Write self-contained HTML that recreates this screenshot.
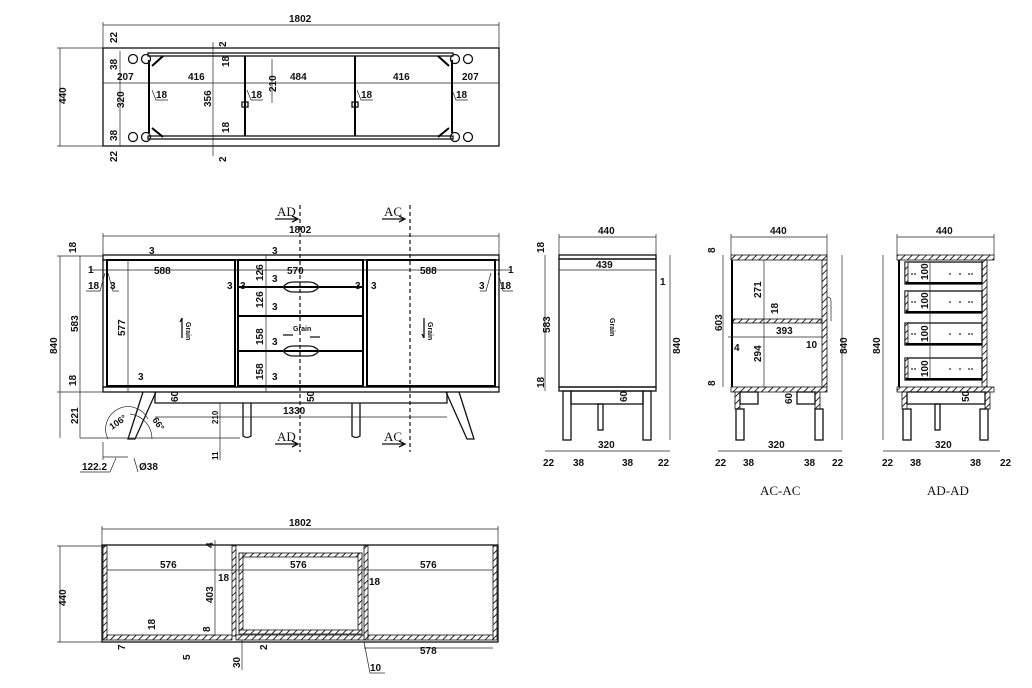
<!DOCTYPE html>
<html><head><meta charset="utf-8"><style>
html,body{margin:0;padding:0;background:#fff;}
svg{display:block;}
text{font-family:"Liberation Sans",sans-serif;font-size:10px;font-weight:bold;fill:#111;}
.s{font-family:"Liberation Serif",serif;font-weight:normal;font-size:13px;}
.t{stroke:#222;stroke-width:0.7;fill:none;}
.m{stroke:#111;stroke-width:1.3;fill:none;}
.k{stroke:#000;stroke-width:2;fill:none;}
.d{stroke:#111;stroke-width:1.2;stroke-dasharray:4 3;fill:none;}
.h{fill:url(#hp);stroke:#111;stroke-width:0.8;}
</style></head><body>
<svg width="1032" height="688" viewBox="0 0 1032 688" xmlns="http://www.w3.org/2000/svg">
<defs>
<pattern id="hp" width="5" height="5" patternUnits="userSpaceOnUse" patternTransform="rotate(45)">
<rect width="5" height="5" fill="#fff"/><line x1="0" y1="0" x2="0" y2="5" stroke="#111" stroke-width="1.8"/>
</pattern>
</defs>

<!-- ============ TOP VIEW ============ -->
<line class="t" x1="103" y1="25" x2="499" y2="25"/><line class="t" x1="103" y1="22" x2="103" y2="48"/><line class="t" x1="499" y1="22" x2="499" y2="48"/>
<text x="289" y="22">1802</text>
<line class="t" x1="60" y1="48" x2="60" y2="146"/><line class="t" x1="57" y1="48" x2="103" y2="48"/><line class="t" x1="57" y1="146" x2="103" y2="146"/>
<text transform="translate(66,104) rotate(-90)">440</text>
<rect class="m" x="103" y="48" width="396" height="98"/>
<line class="t" x1="103" y1="83" x2="499" y2="83"/>
<rect class="m" x="148" y="53" width="305" height="3"/>
<rect class="m" x="148" y="136" width="305" height="3"/>
<line class="k" x1="149" y1="60" x2="149" y2="133"/>
<line class="k" x1="452" y1="60" x2="452" y2="133"/>
<line class="k" x1="245" y1="56" x2="245" y2="136"/>
<line class="k" x1="355" y1="56" x2="355" y2="136"/>
<rect class="m" x="242" y="102" width="6" height="5"/><rect class="m" x="352" y="102" width="6" height="5"/>
<line class="t" x1="213" y1="42" x2="213" y2="156"/>
<line class="t" x1="272" y1="59" x2="272" y2="103"/>
<g class="m">
<circle cx="133" cy="59" r="4.5"/><circle cx="146" cy="59" r="4.5"/><circle cx="133" cy="137" r="4.5"/><circle cx="146" cy="137" r="4.5"/>
<circle cx="455" cy="59" r="4.5"/><circle cx="468" cy="59" r="4.5"/><circle cx="455" cy="137" r="4.5"/><circle cx="468" cy="137" r="4.5"/>
</g>
<g class="k"><line x1="152" y1="66" x2="163" y2="56"/><line x1="152" y1="128" x2="163" y2="137"/><line x1="449" y1="66" x2="438" y2="56"/><line x1="449" y1="128" x2="438" y2="137"/></g>
<line class="t" x1="120" y1="51" x2="120" y2="146"/>
<text transform="translate(117,43) rotate(-90)">22</text>
<text transform="translate(117,70) rotate(-90)">38</text>
<text transform="translate(124,108) rotate(-90)">320</text>
<text transform="translate(117,141) rotate(-90)">38</text>
<text transform="translate(117,162) rotate(-90)">22</text>
<text x="117" y="80">207</text><text x="188" y="80">416</text><text x="290" y="80">484</text><text x="393" y="80">416</text><text x="462" y="80">207</text>
<text transform="translate(226,47) rotate(-90)">2</text><text transform="translate(226,162) rotate(-90)">2</text>
<text transform="translate(229,67) rotate(-90)">18</text><text transform="translate(229,133) rotate(-90)">18</text>
<text transform="translate(211,107) rotate(-90)">356</text><text transform="translate(276,92) rotate(-90)">210</text>
<text x="156" y="98">18</text><text x="251" y="98">18</text><text x="361" y="98">18</text><text x="456" y="98">18</text>
<path class="t" d="M152,90 l4,10 h12 M247,90 l4,10 h12 M357,90 l4,10 h12 M452,90 l4,10 h12"/>

<!-- ============ FRONT VIEW ============ -->
<text class="s" x="277" y="216">AD</text><text class="s" x="384" y="216">AC</text>
<text class="s" x="277" y="441">AD</text><text class="s" x="384" y="441">AC</text>
<path d="M275,219 h22 M292,216 l6,3 -6,3 M382,219 h22 M399,216 l6,3 -6,3 M275,444 h22 M292,441 l6,3 -6,3 M382,444 h22 M399,441 l6,3 -6,3" class="m"/>
<line class="t" x1="103" y1="236" x2="499" y2="236"/><line class="t" x1="103" y1="233" x2="103" y2="255"/><line class="t" x1="499" y1="233" x2="499" y2="255"/>
<text x="289" y="233">1802</text>
<rect class="m" x="103" y="255" width="396" height="5"/>
<rect class="m" x="103" y="260" width="396" height="127"/>
<rect class="m" x="103" y="387" width="396" height="5"/>
<rect class="k" x="107" y="260" width="128" height="126"/>
<rect class="k" x="238" y="260" width="125" height="126"/>
<rect class="k" x="367" y="260" width="128" height="126"/>
<line class="k" x1="238" y1="287" x2="363" y2="287"/><line class="k" x1="238" y1="316" x2="363" y2="316"/><line class="k" x1="238" y1="351" x2="363" y2="351"/>
<path class="m" d="M283,287 q4,-5 10,-5 h16 q6,0 10,5 q-4,5 -10,5 h-16 q-6,0 -10,-5z"/>
<path class="m" d="M283,351 q4,-5 10,-5 h16 q6,0 10,5 q-4,5 -10,5 h-16 q-6,0 -10,-5z"/>
<line class="t" x1="90" y1="270" x2="510" y2="270"/>
<line class="d" x1="300" y1="205" x2="300" y2="452"/><line class="d" x1="410" y1="205" x2="410" y2="452"/>
<line class="t" x1="128" y1="260" x2="128" y2="392"/>
<line class="t" x1="266" y1="255" x2="266" y2="392"/>
<path class="m" d="M143,392 L128,439 L135,439 L156,392"/>
<path class="m" d="M459,392 L474,439 L467,439 L446,392"/>
<path class="m" d="M155,392 L155,403 L447,403 L447,392"/>
<path class="m" d="M243,403 v33 q4,3 8,0 v-33 M352,403 v33 q4,3 8,0 v-33"/>
<line class="t" x1="80" y1="438" x2="240" y2="438"/>
<line class="t" x1="220" y1="403" x2="220" y2="460"/>
<line class="t" x1="155" y1="417" x2="447" y2="417"/>
<text x="283" y="414">1330</text>
<path class="t" d="M108,439 a22,22 0 0 1 40,-20 M130,414 a25,25 0 0 1 22,25"/>
<line class="t" x1="103" y1="442" x2="103" y2="460"/><line class="t" x1="103" y1="457" x2="128" y2="457"/>
<text x="82" y="470">122.2</text><line class="t" x1="80" y1="472" x2="110" y2="472"/><line class="t" x1="110" y1="472" x2="116" y2="458"/>
<text x="139" y="470">Ø38</text><line class="t" x1="134" y1="458" x2="138" y2="472"/>
<text transform="translate(112,430) rotate(-35)" style="font-size:9px">106°</text>
<text transform="translate(152,420) rotate(55)" style="font-size:9px">66°</text>
<line class="t" x1="60" y1="256" x2="60" y2="438"/><line class="t" x1="80" y1="256" x2="80" y2="438"/>
<line class="t" x1="57" y1="256" x2="103" y2="256"/><line class="t" x1="57" y1="392" x2="103" y2="392"/>
<text transform="translate(57,354) rotate(-90)">840</text>
<text transform="translate(76,253) rotate(-90)">18</text>
<text transform="translate(78,332) rotate(-90)">583</text>
<text transform="translate(76,386) rotate(-90)">18</text>
<text transform="translate(78,424) rotate(-90)">221</text>
<text transform="translate(125,336) rotate(-90)">577</text>
<text x="154" y="274">588</text><text x="287" y="274">570</text><text x="420" y="274">588</text>
<text x="88" y="273">1</text><text x="508" y="273">1</text>
<text x="88" y="289">18</text><text x="110" y="289">3</text><text x="227" y="289">3</text><text x="240" y="289">3</text>
<text x="355" y="289">3</text><text x="371" y="289">3</text><text x="479" y="289">3</text><text x="500" y="289">18</text>
<path class="t" d="M86,291 h14 l5,-18 M108,273 l5,18 h6 M480,291 h6 l5,-18 M498,273 l5,18 h10"/>
<text x="149" y="254">3</text><text x="272" y="254">3</text>
<text transform="translate(263,281) rotate(-90)">126</text><text transform="translate(263,308) rotate(-90)">126</text>
<text transform="translate(263,345) rotate(-90)">158</text><text transform="translate(263,380) rotate(-90)">158</text>
<text x="272" y="282">3</text><text x="272" y="310">3</text><text x="272" y="345">3</text><text x="272" y="380">3</text><text x="138" y="380">3</text>
<text transform="translate(178,402) rotate(-90)">60</text><text transform="translate(314,402) rotate(-90)">50</text>
<text transform="translate(218,424) rotate(-90)" style="font-size:8px">210</text>
<text transform="translate(218,460) rotate(-90)" style="font-size:8px">11</text>
<text transform="translate(186,322) rotate(90)" style="font-size:7px">Grain</text>
<text transform="translate(428,322) rotate(90)" style="font-size:7px">Grain</text>
<text x="293" y="331" style="font-size:7px">Grain</text>
<path class="m" d="M182,318 v20 M182,318 l-2,4 M283,335 h10 M310,337 h10"/>
<path class="m" d="M424,318 v20 M424,338 l-2,-4"/>

<!-- ============ SIDE VIEW ============ -->
<line class="t" x1="559" y1="237" x2="656" y2="237"/><line class="t" x1="559" y1="234" x2="559" y2="255"/><line class="t" x1="656" y1="234" x2="656" y2="255"/>
<text x="598" y="234">440</text>
<rect class="m" x="559" y="255" width="97" height="4"/>
<rect class="m" x="559" y="259" width="97" height="128"/>
<rect class="m" x="559" y="387" width="97" height="4"/>
<line class="t" x1="559" y1="270" x2="656" y2="270"/><text x="596" y="268">439</text><text x="660" y="285">1</text>
<rect class="m" x="563" y="391" width="8" height="49"/><rect class="m" x="643" y="391" width="8" height="49"/>
<rect class="m" x="571" y="391" width="72" height="13"/>
<rect class="m" x="598" y="404" width="5" height="26"/>
<line class="t" x1="670" y1="255" x2="670" y2="440"/><text transform="translate(680,354) rotate(-90)">840</text>
<line class="t" x1="545" y1="255" x2="545" y2="391"/>
<text transform="translate(544,253) rotate(-90)">18</text><text transform="translate(550,333) rotate(-90)">583</text><text transform="translate(544,388) rotate(-90)">18</text>
<text transform="translate(627,402) rotate(-90)">60</text>
<text transform="translate(610,318) rotate(90)" style="font-size:7px">Grain</text>
<line class="t" x1="545" y1="451" x2="670" y2="451"/><text x="598" y="448">320</text>
<text x="543" y="466">22</text><text x="573" y="466">38</text><text x="622" y="466">38</text><text x="658" y="466">22</text>

<!-- ============ AC-AC ============ -->
<line class="t" x1="731" y1="237" x2="827" y2="237"/><line class="t" x1="731" y1="234" x2="731" y2="255"/><line class="t" x1="827" y1="234" x2="827" y2="255"/>
<text x="770" y="234">440</text>
<rect class="h" x="731" y="255" width="96" height="5"/>
<rect class="h" x="731" y="387" width="96" height="5"/>
<rect class="h" x="733" y="319" width="88" height="4"/>
<rect class="h" x="822" y="260" width="5" height="127"/>
<line class="k" x1="732" y1="260" x2="732" y2="387"/>
<path class="t" d="M827,297 q4,0 4,4 v20"/>
<line class="t" x1="764" y1="260" x2="764" y2="387"/>
<line class="t" x1="728" y1="337" x2="822" y2="337"/>
<rect class="h" x="735" y="392" width="5" height="17"/><rect class="h" x="815" y="392" width="5" height="17"/>
<rect class="m" x="740" y="392" width="18" height="12"/><rect class="m" x="797" y="392" width="18" height="12"/>
<rect class="m" x="736" y="409" width="8" height="31"/><rect class="m" x="815" y="409" width="8" height="31"/>
<line class="t" x1="842" y1="255" x2="842" y2="440"/><text transform="translate(847,354) rotate(-90)">840</text>
<line class="t" x1="723" y1="255" x2="723" y2="387"/>
<text transform="translate(715,253) rotate(-90)">8</text><text transform="translate(722,331) rotate(-90)">603</text><text transform="translate(715,386) rotate(-90)">8</text>
<text transform="translate(761,298) rotate(-90)">271</text><text transform="translate(761,362) rotate(-90)">294</text>
<text transform="translate(778,314) rotate(-90)">18</text>
<text x="776" y="334">393</text><text x="734" y="351">4</text><text x="806" y="348">10</text>
<text transform="translate(792,404) rotate(-90)">60</text>
<line class="t" x1="718" y1="451" x2="842" y2="451"/><text x="768" y="448">320</text>
<text x="715" y="466">22</text><text x="743" y="466">38</text><text x="804" y="466">38</text><text x="832" y="466">22</text>
<text class="s" x="760" y="495">AC-AC</text>

<!-- ============ AD-AD ============ -->
<line class="t" x1="897" y1="237" x2="994" y2="237"/><line class="t" x1="897" y1="234" x2="897" y2="255"/><line class="t" x1="994" y1="234" x2="994" y2="255"/>
<text x="936" y="234">440</text>
<rect class="h" x="897" y="255" width="97" height="5"/>
<rect class="h" x="897" y="387" width="97" height="5"/>
<line class="k" x1="899" y1="260" x2="899" y2="387"/>
<rect class="h" x="982" y="260" width="5" height="127"/>
<g>
<rect class="m" x="905" y="262" width="77" height="22"/><rect class="h" x="905" y="262" width="3" height="20"/><line class="k" x1="906" y1="283" x2="982" y2="283"/>
<rect class="m" x="905" y="291" width="77" height="22"/><rect class="h" x="905" y="291" width="3" height="20"/><line class="k" x1="906" y1="312" x2="982" y2="312"/>
<rect class="m" x="905" y="323" width="77" height="22"/><rect class="h" x="905" y="323" width="3" height="20"/><line class="k" x1="906" y1="344" x2="982" y2="344"/>
<rect class="m" x="905" y="358" width="77" height="22"/><rect class="h" x="905" y="358" width="3" height="20"/><line class="k" x1="906" y1="379" x2="982" y2="379"/>
</g>
<line class="t" x1="930" y1="262" x2="930" y2="380"/>
<text transform="translate(928,280) rotate(-90)">100</text><text transform="translate(928,309) rotate(-90)">100</text>
<text transform="translate(928,342) rotate(-90)">100</text><text transform="translate(928,377) rotate(-90)">100</text>
<g fill="#222">
<circle cx="912" cy="274" r="0.9"/><circle cx="915" cy="274" r="0.9"/><circle cx="950" cy="274" r="0.9"/><circle cx="960" cy="274" r="0.9"/><circle cx="969" cy="274" r="0.9"/><circle cx="972" cy="274" r="0.9"/>
<circle cx="912" cy="302" r="0.9"/><circle cx="915" cy="302" r="0.9"/><circle cx="950" cy="302" r="0.9"/><circle cx="960" cy="302" r="0.9"/><circle cx="969" cy="302" r="0.9"/><circle cx="972" cy="302" r="0.9"/>
<circle cx="912" cy="334" r="0.9"/><circle cx="915" cy="334" r="0.9"/><circle cx="950" cy="334" r="0.9"/><circle cx="960" cy="334" r="0.9"/><circle cx="969" cy="334" r="0.9"/><circle cx="972" cy="334" r="0.9"/>
<circle cx="912" cy="369" r="0.9"/><circle cx="915" cy="369" r="0.9"/><circle cx="950" cy="369" r="0.9"/><circle cx="960" cy="369" r="0.9"/><circle cx="969" cy="369" r="0.9"/><circle cx="972" cy="369" r="0.9"/>
</g>
<rect class="h" x="902" y="392" width="5" height="17"/><rect class="h" x="985" y="392" width="5" height="17"/>
<rect class="m" x="907" y="392" width="78" height="12"/>
<rect class="m" x="903" y="409" width="8" height="31"/><rect class="m" x="980" y="409" width="8" height="31"/>
<rect class="m" x="935" y="404" width="5" height="26"/>
<line class="t" x1="883" y1="255" x2="883" y2="440"/><text transform="translate(880,354) rotate(-90)">840</text>
<text transform="translate(969,402) rotate(-90)">50</text>
<line class="t" x1="883" y1="451" x2="1000" y2="451"/><text x="935" y="448">320</text>
<text x="882" y="466">22</text><text x="910" y="466">38</text><text x="970" y="466">38</text><text x="1000" y="466">22</text>
<text class="s" x="927" y="495">AD-AD</text>

<!-- ============ BOTTOM SECTION ============ -->
<line class="t" x1="102" y1="529" x2="498" y2="529"/><line class="t" x1="102" y1="526" x2="102" y2="545"/><line class="t" x1="498" y1="526" x2="498" y2="545"/>
<text x="289" y="526">1802</text>
<line class="t" x1="60" y1="546" x2="60" y2="642"/><line class="t" x1="57" y1="546" x2="102" y2="546"/><line class="t" x1="57" y1="642" x2="102" y2="642"/>
<text transform="translate(66,606) rotate(-90)">440</text>
<rect class="m" x="102" y="545" width="396" height="97"/>
<rect class="h" x="103" y="546" width="4" height="94"/>
<rect class="h" x="493" y="546" width="4" height="94"/>
<rect class="h" x="232" y="546" width="4" height="90"/>
<rect class="h" x="364" y="546" width="4" height="94"/>
<rect class="h" x="239" y="553" width="123" height="4"/>
<rect class="h" x="239" y="553" width="4" height="80"/><rect class="h" x="358" y="553" width="4" height="80"/>
<rect class="h" x="239" y="630" width="123" height="4"/>
<rect class="h" x="107" y="635" width="125" height="5"/>
<rect class="h" x="236" y="635" width="128" height="5"/>
<rect class="h" x="368" y="635" width="125" height="5"/>
<line class="t" x1="107" y1="570" x2="493" y2="570"/>
<text x="160" y="568">576</text><text x="290" y="568">576</text><text x="420" y="568">576</text>
<line class="t" x1="215" y1="540" x2="215" y2="636"/>
<text transform="translate(213,548) rotate(-90)">4</text><text transform="translate(213,603) rotate(-90)">403</text>
<text x="218" y="581">18</text><text x="369" y="585">18</text>
<line class="t" x1="364" y1="648" x2="493" y2="648"/><text x="420" y="654">578</text>
<text x="370" y="671">10</text><line class="t" x1="364" y1="642" x2="370" y2="673"/><line class="t" x1="370" y1="673" x2="385" y2="673"/>
<text transform="translate(125,650) rotate(-90)">7</text><text transform="translate(155,630) rotate(-90)">18</text>
<text transform="translate(190,660) rotate(-90)">5</text><text transform="translate(210,632) rotate(-90)">8</text>
<text transform="translate(240,668) rotate(-90)">30</text><text transform="translate(267,650) rotate(-90)">2</text>
<line class="t" x1="242" y1="640" x2="242" y2="670"/>
</svg>
</body></html>
